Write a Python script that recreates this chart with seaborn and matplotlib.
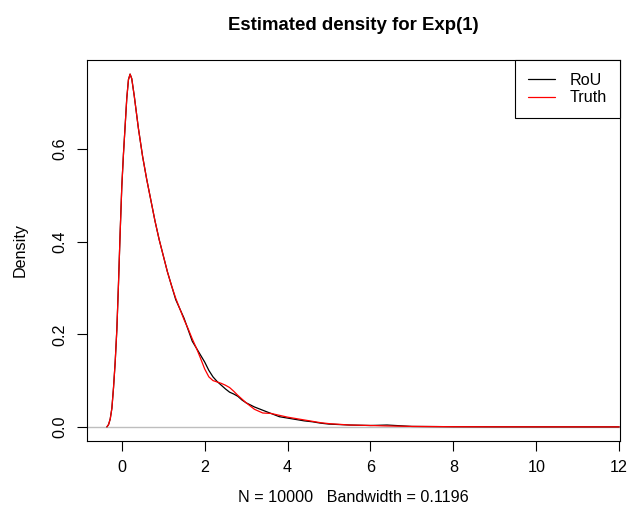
import matplotlib
matplotlib.use("Agg")
import matplotlib.pyplot as plt
import seaborn as sns
import pandas as pd

# ---- data ----
x_grid = [-0.36, -0.32, -0.28, -0.24, -0.20, -0.16, -0.12, -0.08, -0.04, 0.00,
          0.04, 0.08, 0.12, 0.16, 0.20, 0.24, 0.30, 0.40, 0.50, 0.60,
          0.70, 0.80, 0.90, 1.00, 1.10, 1.20, 1.30, 1.40, 1.50, 1.60,
          1.70, 1.80, 1.90, 2.00, 2.10, 2.20, 2.30, 2.40, 2.50, 2.60,
          2.70, 2.80, 2.90, 3.00, 3.20, 3.40, 3.60, 3.80, 4.00, 4.20,
          4.40, 4.60, 4.80, 5.00, 5.50, 6.00, 6.40, 7.00, 8.00, 9.00,
          10.0, 11.0, 12.0]
rou_density = [0.000, 0.005, 0.017, 0.040, 0.085, 0.140, 0.210, 0.310, 0.420, 0.520,
               0.590, 0.650, 0.710, 0.750, 0.762, 0.752, 0.715, 0.645, 0.585, 0.535,
               0.490, 0.445, 0.405, 0.370, 0.335, 0.305, 0.275, 0.255, 0.235, 0.210,
               0.185, 0.170, 0.155, 0.140, 0.122, 0.108, 0.098, 0.090, 0.082, 0.075,
               0.071, 0.066, 0.058, 0.052, 0.043, 0.036, 0.029, 0.022, 0.019, 0.016,
               0.013, 0.011, 0.008, 0.006, 0.004, 0.003, 0.004, 0.001, 0.0004, 0.0002,
               0.0001, 0.00005, 0.0]
truth_density = [0.000, 0.005, 0.017, 0.040, 0.085, 0.140, 0.210, 0.310, 0.420, 0.520,
                 0.590, 0.650, 0.710, 0.750, 0.762, 0.752, 0.715, 0.645, 0.585, 0.535,
                 0.490, 0.445, 0.405, 0.370, 0.335, 0.305, 0.278, 0.255, 0.232, 0.212,
                 0.190, 0.170, 0.148, 0.125, 0.108, 0.100, 0.097, 0.094, 0.090, 0.085,
                 0.077, 0.068, 0.060, 0.052, 0.038, 0.030, 0.029, 0.025, 0.021, 0.018,
                 0.015, 0.012, 0.009, 0.007, 0.004, 0.003, 0.002, 0.001, 0.0004, 0.0002,
                 0.0001, 0.00005, 0.0]
series_names = ["RoU", "Truth"]
series_colors = ["black", "red"]
x_ticks = [0, 2, 4, 6, 8, 10, 12]
y_ticks = [0.0, 0.2, 0.4, 0.6]
y_tick_labels = ["0.0", "0.2", "0.4", "0.6"]
title = "Estimated density for Exp(1)"
x_label = "N = 10000   Bandwidth = 0.1196"
y_label = "Density"

df = pd.concat([
    pd.DataFrame({"x": x_grid, "density": rou_density, "series": series_names[0]}),
    pd.DataFrame({"x": x_grid, "density": truth_density, "series": series_names[1]}),
])

sns.set_style("white")
plt.rcParams["font.family"] = ["Liberation Sans", "DejaVu Sans"]
plt.rcParams["text.color"] = "black"
plt.rcParams["axes.labelcolor"] = "black"

FS = 11.6
fig = plt.figure(figsize=(6.29, 5.18), dpi=100)
ax = fig.add_axes([87 / 629, 1 - 441 / 518, (620 - 87) / 629, (441 - 60) / 518])

ax.axhline(0, color="#BEBEBE", lw=1.0, zorder=1)
sns.lineplot(data=df, x="x", y="density", hue="series", hue_order=series_names,
             palette=series_colors, linewidth=0.9, ax=ax, sort=False,
             estimator=None, zorder=3)

ax.set_xlim(-0.84, 12.02)
ax.set_ylim(-0.0305, 0.7925)
ax.set_xticks(x_ticks)
ax.set_yticks(y_ticks)
ax.set_yticklabels(y_tick_labels, rotation=90, va="center")
ax.tick_params(axis="both", direction="out", length=7, width=0.8, labelsize=FS,
               colors="black", labelcolor="black", pad=7, left=True, bottom=True)
for sp in ax.spines.values():
    sp.set_visible(True)
    sp.set_color("black")
    sp.set_linewidth(0.8)

ax.set_xlabel(x_label, fontsize=FS, color="black")
ax.set_ylabel(y_label, fontsize=FS, color="black")
ax.xaxis.set_label_coords((87 + 620) / 2 / 629, 1 - 498 / 518, transform=fig.transFigure)
ax.yaxis.set_label_coords(20 / 629, 1 - 250 / 518, transform=fig.transFigure)
ax.xaxis.label.set_va("center")
ax.yaxis.label.set_va("center")
fig.text((87 + 620) / 2 / 629, 1 - 25 / 518, title, ha="center", va="center",
         fontsize=13.4, fontweight="bold", color="black")

leg = ax.legend(loc="upper right", borderaxespad=0, fancybox=False,
                edgecolor="black", framealpha=1, fontsize=FS,
                handlelength=1.7, handletextpad=0.9, borderpad=0.8,
                labelspacing=0.15)
leg.get_frame().set_linewidth(0.8)
leg.set_title(None)
for t in leg.get_texts():
    t.set_color("black")

fig.savefig("out.png", dpi=100)
